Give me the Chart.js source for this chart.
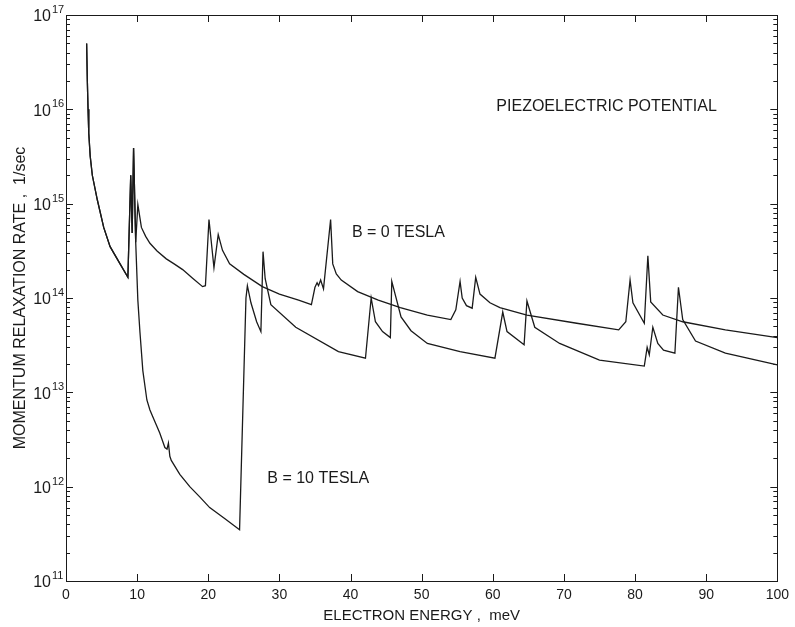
<!DOCTYPE html>
<html>
<head>
<meta charset="utf-8">
<script src="https://cdn.jsdelivr.net/npm/chart.js@4.4.1/dist/chart.umd.min.js"></script>
<style>
html,body{margin:0;padding:0;background:#fff;}
#wrap{width:795px;height:627px;position:relative;}
</style>
</head>
<body>
<div id="wrap"><canvas id="c" width="795" height="627"></canvas></div>
<script>
// ---- data (energy in meV, rate in 1/sec) ----
const energyB0 = [2.9,3.0,3.1,3.2,3.4,3.7,4.4,5.3,6.2,7.6,8.7,9.1,9.3,9.5,9.8,10.1,10.6,11.2,11.8,12.8,14.1,15.2,16.4,17.8,19.2,19.6,20.1,20.8,21.4,22.0,23.0,25.0,27.6,30.0,32.7,34.5,35.0,35.3,35.5,35.8,36.2,37.2,37.5,38.0,38.7,41.0,43.9,47.0,50.8,54.1,54.8,55.4,55.7,56.3,57.1,57.6,58.2,59.6,61.0,64.8,71.8,77.7,78.7,79.3,79.7,81.3,81.8,82.2,83.9,86.7,92.7,100];
const rateB0 = [5.0e16,2.0e16,1.0e16,5.6e15,3.2e15,2.0e15,1.1e15,5.6e14,3.5e14,2.3e14,1.66e14,2.0e15,4.9e14,3.9e15,3.9e14,9.8e14,5.6e14,4.5e14,3.8e14,3.15e14,2.6e14,2.3e14,2.0e14,1.62e14,1.32e14,1.35e14,6.8e14,2.1e14,4.7e14,3.2e14,2.3e14,1.78e14,1.32e14,1.1e14,9.5e13,8.5e13,1.3e14,1.45e14,1.35e14,1.55e14,1.25e14,6.8e14,2.3e14,1.8e14,1.55e14,1.17e14,9.5e13,7.9e13,6.6e13,5.9e13,7.5e13,1.5e14,1.0e14,8.3e13,7.8e13,1.66e14,1.1e14,8.9e13,7.9e13,6.6e13,5.4e13,4.6e13,5.6e13,1.55e14,8.9e13,5.4e13,2.8e14,9.1e13,6.6e13,5.6e13,4.6e13,3.8e13];

const energyB10 = [2.9,3.0,3.1,3.2,3.4,3.7,4.4,5.3,6.2,7.6,8.7,9.1,9.3,9.5,9.8,10.1,10.4,10.8,11.37,11.8,12.2,12.7,13.18,13.9,14.2,14.4,14.6,14.8,16.0,17.4,18.8,20.2,22.3,24.4,25.3,25.5,26.0,26.8,27.4,27.7,28.0,28.8,32.3,38.3,42.1,42.9,43.5,44.5,45.6,45.8,47.1,48.5,50.8,55.4,60.3,61.4,62.0,64.4,64.8,65.9,69.4,75.0,81.3,81.7,82.0,82.5,83.2,84.0,85.6,86.1,86.7,88.5,92.7,100];
const rateB10 = [5.0e16,2.0e16,1.0e16,5.6e15,3.2e15,2.0e15,1.1e15,5.6e14,3.5e14,2.3e14,1.66e14,2.0e15,4.9e14,3.9e15,3.9e14,9.5e13,4.3e13,1.7e13,8.3e12,6.5e12,5.5e12,4.5e12,3.7e12,2.6e12,2.5e12,2.9e12,2.1e12,1.9e12,1.35e12,1.0e12,7.8e11,6.0e11,4.6e11,3.5e11,1.0e14,1.35e14,8.9e13,5.6e13,4.4e13,3.1e14,1.6e14,8.5e13,4.9e13,2.7e13,2.3e13,1.0e14,5.6e13,4.4e13,3.8e13,1.5e14,6.3e13,4.5e13,3.3e13,2.7e13,2.3e13,7.1e13,4.4e13,3.2e13,9.3e13,4.9e13,3.3e13,2.2e13,1.9e13,3.0e13,2.5e13,4.9e13,3.3e13,2.8e13,2.6e13,1.3e14,5.9e13,3.5e13,2.6e13,1.95e13];

const xTicks = [0,10,20,30,40,50,60,70,80,90,100];
const yDecades = [11,12,13,14,15,16,17];
const xTitle = 'ELECTRON ENERGY ,  meV';
const yTitle = 'MOMENTUM RELAXATION RATE ,  1/sec';
const notes = [
  {text:'PIEZOELECTRIC POTENTIAL', x:60.5, y:1.07e16},
  {text:'B = 0 TESLA', x:40.2, y:4.9e14},
  {text:'B = 10 TESLA', x:28.3, y:1.23e12}
];

const toPts = (xs, ys) => xs.map((x, i) => ({x: x, y: ys[i]}));
const SANS = "'Liberation Sans', Arial, sans-serif";
const INK = '#1a1a1a';

const framePlugin = {
  id: 'frame',
  afterDraw(chart) {
    const ctx = chart.ctx;
    const a = chart.chartArea;
    const xs = chart.scales.x, ys = chart.scales.y;
    ctx.save();
    ctx.strokeStyle = INK;
    ctx.lineWidth = 1;
    ctx.strokeRect(Math.round(a.left) + 0.5, Math.round(a.top) + 0.5, Math.round(a.right - a.left), Math.round(a.bottom - a.top));
    ctx.beginPath();
    xTicks.forEach(v => {
      const px = Math.round(xs.getPixelForValue(v)) + 0.5;
      ctx.moveTo(px, a.bottom); ctx.lineTo(px, a.bottom - 7);
      ctx.moveTo(px, a.top); ctx.lineTo(px, a.top + 7);
    });
    yDecades.forEach(d => {
      for (let m = 1; m <= 9; m++) {
        if (d === 17 && m > 1) break;
        const py = Math.round(ys.getPixelForValue(m * Math.pow(10, d))) + 0.5;
        const len = m === 1 ? 7 : 4;
        ctx.moveTo(a.left, py); ctx.lineTo(a.left + len, py);
        ctx.moveTo(a.right, py); ctx.lineTo(a.right - len, py);
      }
    });
    ctx.stroke();
    ctx.fillStyle = INK;
    yDecades.forEach(d => {
      const py = ys.getPixelForValue(Math.pow(10, d));
      ctx.font = '16px ' + SANS;
      ctx.textAlign = 'right';
      ctx.textBaseline = 'middle';
      ctx.fillText('10', a.left - 15, py + 2);
      ctx.font = '11px ' + SANS;
      ctx.textAlign = 'left';
      ctx.textBaseline = 'alphabetic';
      ctx.fillText(String(d), a.left - 14, py - 2);
    });
    ctx.font = '16px ' + SANS;
    ctx.textAlign = 'left';
    ctx.textBaseline = 'middle';
    notes.forEach(n => {
      ctx.fillText(n.text, xs.getPixelForValue(n.x), ys.getPixelForValue(n.y));
    });
    ctx.restore();
  }
};

new Chart(document.getElementById('c'), {
  type: 'line',
  data: {
    datasets: [
      {label: 'B = 0 TESLA', data: toPts(energyB0, rateB0), borderColor: INK, borderWidth: 1.3, pointRadius: 0, tension: 0, fill: false},
      {label: 'B = 10 TESLA', data: toPts(energyB10, rateB10), borderColor: INK, borderWidth: 1.3, pointRadius: 0, tension: 0, fill: false}
    ]
  },
  options: {
    responsive: false,
    animation: false,
    devicePixelRatio: 1,
    layout: {padding: {top: 15, right: 15, left: 0, bottom: 0}},
    plugins: {legend: {display: false}, tooltip: {enabled: false}},
    scales: {
      x: {
        type: 'linear', min: 0, max: 100,
        afterFit: s => { s.height = 46; },
        afterBuildTicks: s => { s.ticks = xTicks.map(v => ({value: v})); },
        grid: {display: false, drawTicks: false},
        border: {display: false},
        ticks: {color: INK, font: {family: SANS, size: 14}, padding: 6, maxRotation: 0, autoSkip: false},
        title: {display: true, text: xTitle, color: INK, font: {family: SANS, size: 15}, padding: {top: 0, bottom: 2}}
      },
      y: {
        type: 'logarithmic', min: 1e11, max: 1e17,
        afterFit: s => { s.width = 66; },
        grid: {display: false},
        border: {display: false},
        ticks: {display: false},
        title: {display: true, text: yTitle, color: INK, font: {family: SANS, size: 16}, padding: {top: 11, bottom: 0}}
      }
    }
  },
  plugins: [framePlugin]
});
</script>
</body>
</html>
